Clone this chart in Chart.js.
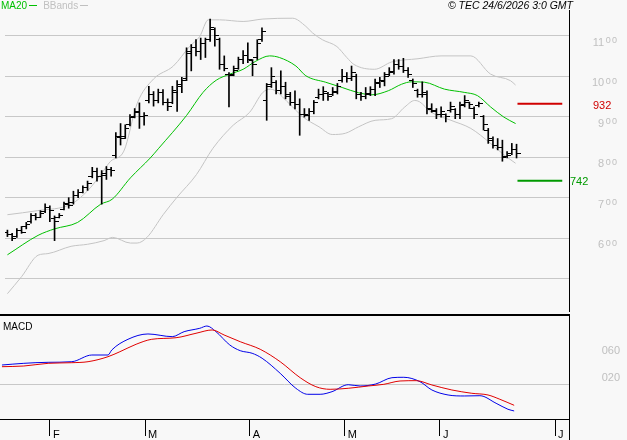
<!DOCTYPE html>
<html><head><meta charset="utf-8">
<script src="https://cdn.jsdelivr.net/npm/chart.js@4.4.0/dist/chart.umd.min.js"></script>
<style>
html,body{margin:0;padding:0;background:#f8f8f8;}
body{width:627px;height:440px;position:relative;overflow:hidden;font-family:"Liberation Sans",Arial,sans-serif;}
#c1{position:absolute;left:0;top:0;}
#c2{position:absolute;left:0;top:316px;}
#sep{position:absolute;left:0;top:314px;width:570px;height:2px;background:#000;}
#legend{position:absolute;left:1px;top:0px;font-size:10px;line-height:11px;white-space:nowrap;}
#legend .ln{display:inline-block;width:8px;height:1px;vertical-align:3px;margin-left:2px;margin-right:6px;}
#stamp{position:absolute;right:54px;top:-1px;font-size:10.5px;font-style:italic;color:#000;white-space:nowrap;}
#macdlbl{position:absolute;left:3px;top:321px;font-size:10px;color:#000;}
</style></head>
<body>
<canvas id="c1" width="627" height="316"></canvas>
<canvas id="c2" width="627" height="124"></canvas>
<div id="sep"></div>
<div id="legend"><span style="color:#00c000">MA20</span><span class="ln" style="background:#00c000"></span><span style="color:#c0c0c0">BBands</span><span class="ln" style="background:#c0c0c0"></span></div>
<div id="stamp">© TEC 24/6/2026 3:0 GMT</div>
<div id="macdlbl">MACD</div>
<script>
// ---------- data (trading-day index 0 = 19 Jan 2026) ----------
const high = [620,612,624,629,639,661,661,668,685,680, 655,661,689,700,716,720,729,741,775,773,
  767,777,775,861,883,880,905,920,934,910, 975,962,968,967,944,975,989,997,1070,1078,
  1090,1094,1094,1141,1119,1094,1050,1009,1025,1047, 1063,1082,1041,1090,1119,982,1021,989,1013,985,
  960,964,944,920,920,940,968,974,960,972, 982,1017,1009,1025,1005,960,972,974,993,997,
  1009,1021,1041,1041,1044,1021,993,968,986,964, 932,920,924,907,936,920,936,952,936,924,
  936,903,871,850,846,842,814,834,832];
const low = [604,594,602,612,623,637,645,651,663,641, 594,650,670,674,684,700,712,718,749,741,
  684,745,753,798,830,846,877,897,871,879, 934,926,934,929,915,932,913,959,989,1013,
  1050,1041,1046,1086,1074,1017,1013,924,1001,1017, 1031,1033,1001,1041,1086,891,972,956,956,944,
  928,919,854,899,891,907,944,940,940,952, 956,985,985,989,944,940,944,952,952,972,
  976,1001,1005,1017,1009,997,972,948,948,907, 911,895,899,887,911,895,895,924,920,895,
  924,867,834,822,818,790,798,806,798];
const open = [615,608,605,618,628,640,655,652,665,675, 648,652,672,684,688,706,714,725,752,765,
  752,755,770,805,848,850,880,900,912,900, 940,955,940,960,935,935,960,975,995,1055,
  1070,1060,1080,1090,1115,1090,1030,1005,1005,1020, 1040,1050,1038,1045,1090,940,980,985,965,975,
  950,935,930,905,903,912,948,955,958,955, 962,990,998,995,1000,955,950,957,968,983,
  988,1003,1012,1030,1025,1015,990,965,955,955, 918,912,905,905,915,918,905,930,935,920,
  928,900,865,840,830,825,802,810,820];
const close = [610,600,620,615,635,655,650,662,675,668, 640,655,685,680,705,712,725,735,765,752,
  760,770,768,850,845,872,898,910,900,902, 955,940,960,936,925,965,980,990,1060,1070,
  1060,1080,1090,1120,1100,1030,1020,1002,1015,1040, 1050,1040,1030,1080,1110,975,1000,965,975,955,
  935,930,905,905,912,935,955,962,950,960, 975,1000,995,1010,955,950,955,968,985,990,
  1000,1010,1030,1025,1015,1003,982,955,960,920, 915,905,912,900,925,905,928,940,930,905,
  932,880,845,830,825,800,805,820,810];

// MA20 and Bollinger bands (index, value)
const maIdx  = [0,6.5,10,14.9,19.8,22.2,26.1,30.3,32.1,38,41.5,44.3,47.2,50,52.7,55.6,57.7,61.2,63.3,67.5,71,74.5,77.3,80.8,83.6,85.7,88.5,92.7,96.9,99.7,102.5,105.3,107.8];
const maVal  = [559,607,623,639,684,696,749,798,822,903,960,990,1005,1017,1037,1050,1046,1025,1001,985,972,959,954,964,980,986,985,968,960,952,924,899,883];
const bbUpIdx = [0,6.4,13.5,17,19.8,21.9,24.7,27.5,31,35.2,38.7,40.8,42.6,45,50,54.2,60.5,63.3,64.7,66.8,69.9,72,73.5,77.9,81.5,87.1,92,98.3,102.5,106.7,107.8];
const bbUpVal = [658,668,684,717,757,790,815,932,993,1025,1074,1098,1139,1139,1135,1141,1143,1123,1107,1090,1073,1046,1029,1017,1035,1043,1050,1050,1005,989,978];
const bbLoIdx = [0,3,6.5,8.6,13.5,17,20.5,22.3,26.1,27.5,29.6,33.1,35.9,40.1,43.6,47.9,51.4,54.2,55.8,59.8,62.6,66.1,68.9,71.7,74.5,78,81.5,84.3,86.4,87.4,89.9,94.1,98.3,102.5,105.3,107.8];
const bbLoVal = [463,505,558,562,580,585,594,602,588,588,602,659,700,757,822,879,911,960,968,932,900,875,856,859,875,891,895,924,940,937,911,891,871,834,806,785];

// MACD (blue) and signal (red)
const macdIdx = [-0.1,4.5,9.6,14.6,18.8,22.2,23,26.4,30.6,35.7,38.2,41.5,43,44.9,47.8,50,52.5,54.6,58.4,61.7,64.2,66.8,69.3,72.7,75.2,78.5,81.9,84.4,87.8,90.3,93.7,97.1,100.4,103.8,106.3,107.6];
const macdVal = [0.296,0.321,0.336,0.345,0.444,0.444,0.519,0.677,0.756,0.716,0.79,0.84,0.874,0.79,0.593,0.508,0.47,0.396,0.173,-0.049,-0.138,-0.138,-0.099,0.004,-0.015,0.015,0.108,0.114,0.049,-0.074,-0.148,-0.163,-0.159,-0.271,-0.36,-0.385];
const sigIdx = [-0.1,4.5,9.6,14.6,18,22.2,24.7,28.1,31.4,36.5,40.7,44.1,46.6,50,54.2,58.4,62.6,65.9,68.9,72.7,76.9,80.2,83.6,87,90.3,94.5,98.7,102.1,104.6,107.6];
const sigVal = [0.271,0.281,0.321,0.33,0.345,0.419,0.493,0.603,0.677,0.7,0.766,0.815,0.741,0.641,0.529,0.345,0.108,-0.025,-0.064,-0.049,-0.015,0.01,0.059,0.064,0,-0.074,-0.123,-0.148,-0.212,-0.301];

// targets
const targetVals = [932, 742];
const targetSpan = [108.2, 117.7];

// ticks
const priceGrid = [500,600,700,800,900,1000,1100];
const priceTicks = [600,700,800,900,1000,1100];
const macdTicks = [0.2, 0.6];
const macdTickLabels = ['020','060'];
const monthTicks = [10,30,52,72,92,116.2];
const monthLabels = ['F','M','A','M','J','J'];

// ---------- helpers ----------
function tickImg(side){const c=document.createElement('canvas');c.width=8;c.height=1;const g=c.getContext('2d');g.fillStyle='#000';if(side==='L')g.fillRect(0,0,4,1);else g.fillRect(4,0,4,1);return c;}
const pts=(xs,ys)=>xs.map((x,i)=>({x:x,y:ys[i]}));
const idx = high.map((_,i)=>i);
const XMIN=-0.513, XMAX=119.13;
const FONT = '"Liberation Sans", Arial, sans-serif';
const LBL = '#c0c0c0';
function noPadV(s){s.paddingTop=0;s.paddingBottom=0;}
function noPadH(s){s.paddingLeft=0;s.paddingRight=0;}

// price axis labels: integer part + raised smaller last two digits, placed via the y scale
const priceLabelPlugin = {
  id:'priceLabels',
  afterDraw(chart){
    const y=chart.scales.y, ctx=chart.ctx, a=chart.chartArea, R=a.right+49;
    ctx.save();
    ctx.fillStyle=LBL; ctx.textBaseline='alphabetic';
    priceTicks.forEach(v=>{
      const s=String(v), hi=s.slice(0,-2), lo=s.slice(-2), py=y.getPixelForValue(v);
      const xs=R-12.3;
      ctx.font='9px '+FONT; ctx.textAlign='left';
      ctx.fillText(lo[0], xs, py+7.5); ctx.fillText(lo[1], xs+6.2, py+7.5);
      ctx.font='11px '+FONT; ctx.textAlign='right';
      ctx.fillText(hi, xs-1.5, py+10);
    });
    // target labels
    ctx.font='11px '+FONT; ctx.textAlign='left';
    ctx.fillStyle='#d00000'; ctx.fillText(String(targetVals[0]), a.right+24, y.getPixelForValue(targetVals[0])+5.5);
    ctx.fillStyle='#009a00'; ctx.fillText(String(targetVals[1]), a.right+1, y.getPixelForValue(targetVals[1])+4.5);
    ctx.restore();
  }
};
const macdPlugin = {
  id:'macdLabels',
  afterDraw(chart){
    const ctx=chart.ctx, a=chart.chartArea, y=chart.scales.y;
    ctx.save();
    ctx.fillStyle=LBL; ctx.font='11px '+FONT; ctx.textAlign='right'; ctx.textBaseline='alphabetic';
    macdTicks.forEach((v,i)=>ctx.fillText(macdTickLabels[i], a.right+51, y.getPixelForValue(v)+9.5));
    ctx.strokeStyle='#000'; ctx.lineWidth=1;
    ctx.beginPath(); ctx.moveTo(Math.round(a.right)+0.5, a.bottom); ctx.lineTo(Math.round(a.right)+0.5, chart.height); ctx.stroke();
    ctx.restore();
  }
};

const lineDs=(data,color,w)=>({type:'line',data:data,borderColor:color,borderWidth:w||1,pointRadius:0,fill:false,cubicInterpolationMode:'monotone'});

new Chart(document.getElementById('c1'),{
  type:'bar',
  data:{datasets:[
    {type:'bar',data:idx.map(i=>({x:i,y:[low[i],high[i]]})),backgroundColor:'#000',barThickness:1,order:1},
    {type:'line',data:pts(idx,open),showLine:false,pointStyle:tickImg('L'),pointRadius:4,order:1},
    {type:'line',data:pts(idx,close),showLine:false,pointStyle:tickImg('R'),pointRadius:4,order:1},
    Object.assign(lineDs(pts(bbUpIdx,bbUpVal),'#c4c4c4'),{order:3}),
    Object.assign(lineDs(pts(bbLoIdx,bbLoVal),'#c4c4c4'),{order:3}),
    Object.assign(lineDs(pts(maIdx,maVal),'#00c000'),{order:2}),
    Object.assign(lineDs(pts(targetSpan,[targetVals[0],targetVals[0]]),'#d00000',2),{order:2}),
    Object.assign(lineDs(pts(targetSpan,[targetVals[1],targetVals[1]]),'#009a00',2),{order:2})
  ]},
  options:{
    responsive:false,animation:false,devicePixelRatio:1,
    layout:{padding:{top:10,right:9,left:0,bottom:1}},
    plugins:{legend:{display:false},tooltip:{enabled:false}},
    scales:{
      x:{type:'linear',display:false,min:XMIN,max:XMAX,offset:false},
      y:{type:'linear',position:'right',min:420.3,max:1163.3,
         afterBuildTicks(s){s.ticks=priceGrid.map(v=>({value:v}));},
         ticks:{display:false},
         grid:{color:'#c8c8c8',drawTicks:false},
         border:{display:true,color:'#000',width:1},
         afterFit(s){s.width=49;noPadV(s);}}
    }
  },
  plugins:[priceLabelPlugin]
});

new Chart(document.getElementById('c2'),{
  type:'line',
  data:{datasets:[
    lineDs(pts(sigIdx,sigVal),'#e00000'),
    lineDs(pts(macdIdx,macdVal),'#0000e8')
  ]},
  options:{
    responsive:false,animation:false,devicePixelRatio:1,
    layout:{padding:{top:0,right:9,left:0,bottom:0}},
    plugins:{legend:{display:false},tooltip:{enabled:false}},
    scales:{
      x:{type:'linear',min:XMIN,max:XMAX,offset:false,
         afterBuildTicks(s){s.ticks=monthTicks.map(v=>({value:v}));},
         ticks:{color:'#000',font:{family:FONT,size:11},align:'start',labelOffset:3,padding:-8,maxRotation:0,autoSkip:false,
           callback:(v,i)=>monthLabels[i]},
         grid:{drawOnChartArea:false,drawTicks:true,tickLength:17,color:'#000'},
         border:{display:true,color:'#000',width:1},
         afterFit(s){s.height=21;noPadH(s);}},
      y:{type:'linear',position:'right',min:-0.504,max:1.022,
         afterBuildTicks(s){s.ticks=[0].concat(macdTicks).map(v=>({value:v}));},
         ticks:{display:false},
         grid:{color:(c)=>c.tick&&c.tick.value===0?'#c8c8c8':'rgba(0,0,0,0)',drawTicks:false},
         border:{display:true,color:'#000',width:1},
         afterFit(s){s.width=49;noPadV(s);}}
    }
  },
  plugins:[macdPlugin]
});
</script>
</body></html>
